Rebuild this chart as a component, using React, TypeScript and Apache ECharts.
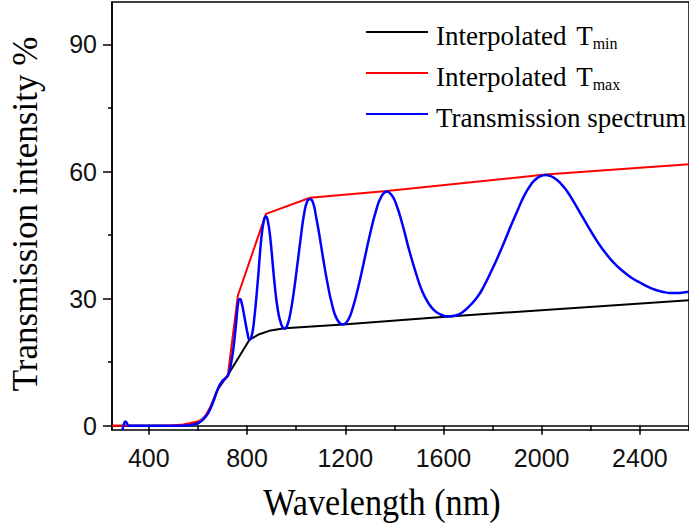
import React, { useEffect, useRef } from 'react';
import * as echarts from 'echarts';

// ---- data (wavelength nm, transmission %) ----
const tminWavelength = [250, 540, 600, 640, 680, 722, 810, 850, 890, 953, 1191, 1621, 2600];
const tminValues = [0, 0, 0.5, 2.9, 8.5, 12.0, 20.3, 21.6, 22.4, 23.0, 23.9, 25.8, 29.6];

const tmaxWavelength = [250, 480, 540, 600, 625, 655, 690, 722, 763, 877, 1057, 1369, 2016, 2600];
const tmaxValues = [0, 0, 0.3, 1.0, 1.8, 4.9, 9.8, 12.0, 30.8, 50.0, 53.8, 55.4, 59.3, 61.7];

const specWavelength = [
  292, 298, 304, 310, 318, 400, 500, 550, 580, 601, 620, 641, 660, 682, 700, 715, 725, 735, 745, 755,
  765, 771, 778, 790, 802, 810, 818, 827, 843, 859, 870, 877, 884, 894, 912, 925, 940, 953, 963, 974,
  989, 1004, 1019, 1033, 1045, 1057, 1069, 1081, 1096, 1111, 1128, 1145, 1165, 1191, 1212, 1232, 1252,
  1272, 1300, 1326, 1348, 1369, 1388, 1406, 1433, 1460, 1487, 1513, 1540, 1567, 1595, 1621, 1650, 1680,
  1710, 1741, 1768, 1795, 1822, 1850, 1876, 1903, 1929, 1956, 1983, 2016, 2050, 2077, 2104, 2130, 2157,
  2184, 2211, 2238, 2265, 2291, 2318, 2345, 2372, 2400, 2425, 2452, 2479, 2500, 2519, 2545, 2569, 2600,
];
const specValues = [
  -1.0, 0.2, 1.0, 0.7, 0, 0, 0, 0.05, 0.3, 0.6, 1.4, 2.9, 5.3, 8.8, 10.6, 11.3, 12.2, 14.7, 18.5, 24.0,
  29.5, 29.9, 29.0, 25.5, 21.8, 20.3, 21.0, 24.0, 33.6, 44.7, 48.8, 49.4, 48.5, 44.7, 33.6, 27.5, 23.8, 22.9, 23.6, 25.8,
  31.0, 37.6, 44.5, 50.2, 52.9, 53.5, 52.6, 49.4, 44.5, 39.1, 33.5, 28.9, 25.3, 23.9, 25.0, 28.1, 32.5,
  37.6, 45.0, 50.9, 54.2, 55.3, 54.5, 52.5, 47.5, 41.5, 36.2, 31.8, 28.8, 27.0, 26.1, 25.8, 26.0, 26.9,
  28.5, 30.6, 33.3, 36.5, 39.9, 43.7, 47.4, 51.0, 54.3, 56.9, 58.5, 59.2, 58.5, 57.2, 55.3, 52.9, 50.2,
  47.5, 44.9, 42.5, 40.4, 38.6, 37.1, 35.8, 34.7, 33.8, 33.0, 32.3, 31.8, 31.5, 31.35, 31.3, 31.4, 31.6,
];

const xMajorTicks = [400, 800, 1200, 1600, 2000, 2400];
const xMinorTicks = [600, 1000, 1400, 1800, 2200, 2600];
const yMajorTicks = [0, 30, 60, 90];
const yMinorTicks = [15, 45, 75];

const seriesNames = ['Interpolated Tmin', 'Interpolated Tmax', 'Transmission spectrum'];
const legendLabels: Record<string, string> = {
  'Interpolated Tmin': 'Interpolated {t|T}{s|min}',
  'Interpolated Tmax': 'Interpolated {t|T}{s|max}',
  'Transmission spectrum': 'Transmission spectrum',
};

const zip = (xs: number[], ys: number[]) => xs.map((x, i) => [x, ys[i]]);

const SERIF = 'Liberation Serif';
const SANS = 'Liberation Sans';

export default function App() {
  const ref = useRef<HTMLDivElement>(null);

  useEffect(() => {
    if (!ref.current) return;
    const chart = echarts.init(ref.current, undefined, { renderer: 'svg' });

    const axisCommon = { min: 250, max: 2600, type: 'value' as const };
    const yCommon = { min: -1, max: 100, type: 'value' as const };
    const plain = (v: number) => String(v);

    chart.setOption({
      animation: false,
      grid: {
        left: 112,
        top: 2,
        width: 584,
        height: 428,
        show: true,
        borderColor: '#000',
        borderWidth: 1.5,
        backgroundColor: 'transparent',
      },
      xAxis: [
        {
          ...axisCommon,
          position: 'bottom',
          axisLine: { show: true, lineStyle: { color: '#000', width: 1.5 } },
          axisTick: { show: true, inside: false, length: 9, lineStyle: { color: '#000', width: 1.5 }, customValues: xMajorTicks },
          axisLabel: { customValues: xMajorTicks, formatter: plain, margin: 15, fontFamily: SANS, fontSize: 25, color: '#111' },
          splitLine: { show: false },
        },
        {
          ...axisCommon,
          position: 'bottom',
          axisLine: { show: false },
          axisTick: { show: true, inside: false, length: 5, lineStyle: { color: '#000', width: 1.5 }, customValues: xMinorTicks },
          axisLabel: { show: false },
          splitLine: { show: false },
        },
      ],
      yAxis: [
        {
          ...yCommon,
          position: 'left',
          axisLine: { show: true, lineStyle: { color: '#000', width: 1.5 } },
          axisTick: { show: true, inside: false, length: 9, lineStyle: { color: '#000', width: 1.5 }, customValues: yMajorTicks },
          axisLabel: { customValues: yMajorTicks, formatter: plain, margin: 15, fontFamily: SANS, fontSize: 25, color: '#111' },
          splitLine: { show: false },
        },
        {
          ...yCommon,
          position: 'left',
          axisLine: { show: false },
          axisTick: { show: true, inside: false, length: 4, lineStyle: { color: '#000', width: 1.5 }, customValues: yMinorTicks },
          axisLabel: { show: false },
          splitLine: { show: false },
        },
      ],
      legend: {
        orient: 'vertical',
        left: 366,
        top: 13,
        padding: 0,
        itemGap: 3,
        itemWidth: 62,
        itemHeight: 2,
        icon: 'rect',
        selectedMode: false,
        data: seriesNames,
        formatter: (name: string) => legendLabels[name] || name,
        textStyle: {
          fontFamily: SERIF,
          fontSize: 27,
          color: '#000',
          lineHeight: 30,
          padding: [8, 0, 0, 3],
          rich: {
            t: { fontFamily: SERIF, fontSize: 27, lineHeight: 30, color: '#000', padding: [0, 0, 0, 3] },
            s: { fontFamily: SERIF, fontSize: 16, lineHeight: 20, verticalAlign: 'bottom', color: '#000' },
          },
        },
      },
      graphic: [
        {
          type: 'text',
          x: 382,
          y: 502,
          scaleX: 0.9,
          silent: true,
          style: {
            text: 'Wavelength (nm)',
            fontFamily: SERIF,
            fontSize: 38,
            fill: '#000',
            textAlign: 'center',
            textVerticalAlign: 'middle',
          },
        },
        {
          type: 'text',
          x: 25,
          y: 214,
          rotation: Math.PI / 2,
          silent: true,
          style: {
            text: 'Transmission intensity %',
            fontFamily: SERIF,
            fontSize: 35,
            fill: '#000',
            textAlign: 'center',
            textVerticalAlign: 'middle',
          },
        },
      ],
      series: [
        {
          name: seriesNames[0],
          type: 'line',
          data: zip(tminWavelength, tminValues),
          showSymbol: false,
          symbol: 'none',
          color: '#000000',
          lineStyle: { color: '#000000', width: 2 },
          itemStyle: { color: '#000000' },
          emphasis: { disabled: true },
        },
        {
          name: seriesNames[1],
          type: 'line',
          data: zip(tmaxWavelength, tmaxValues),
          showSymbol: false,
          symbol: 'none',
          color: '#ff0000',
          lineStyle: { color: '#ff0000', width: 2 },
          itemStyle: { color: '#ff0000' },
          emphasis: { disabled: true },
        },
        {
          name: seriesNames[2],
          type: 'line',
          data: zip(specWavelength, specValues),
          showSymbol: false,
          symbol: 'none',
          smooth: 0.5,
          color: '#0000ff',
          lineStyle: { color: '#0000ff', width: 2.5 },
          itemStyle: { color: '#0000ff' },
          emphasis: { disabled: true },
        },
      ],
    });

    return () => chart.dispose();
  }, []);

  return (
    <div
      ref={ref}
      style={{ position: 'fixed', left: 0, top: 0, width: 689, height: 526, background: '#fff' }}
    />
  );
}
